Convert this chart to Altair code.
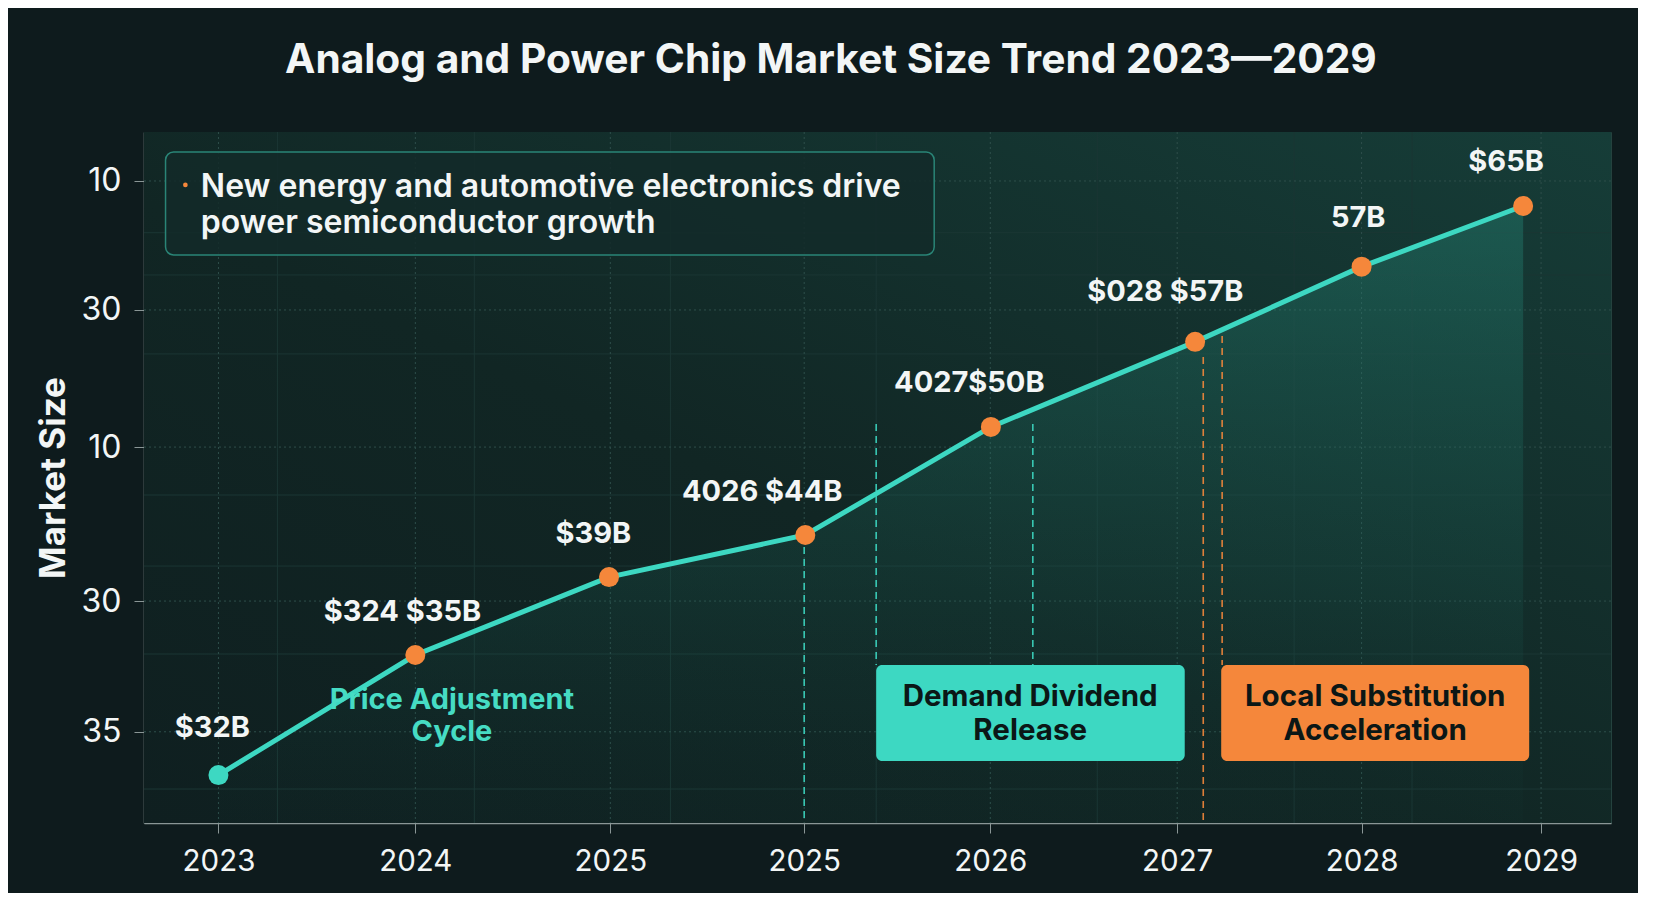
import altair as alt
import pandas as pd

# ---------------- data ----------------
x_tick_labels = ["2023", "2024", "2025", "2025", "2026", "2027", "2028", "2029"]
x_tick_pos = [0.0, 1.042, 2.074, 3.100, 4.085, 5.074, 6.050, 7.000]

point_pos = [0.0, 1.042, 2.067, 3.106, 4.088, 5.169, 6.050, 6.905]
point_level = [32.0, 38.96, 43.48, 45.92, 52.19, 57.12, 61.48, 65.0]
point_kind = ["start", "milestone", "milestone", "milestone", "milestone", "milestone", "milestone", "milestone"]

value_labels = ["$32B", "$324 $35B", "$39B", "4026 $44B", "4027$50B", "$028 $57B", "57B", "$65B"]
label_pos = [-0.032, 0.974, 1.984, 2.878, 3.974, 5.011, 6.032, 6.815]
label_level = [34.72, 41.47, 45.97, 48.41, 54.73, 60.01, 64.30, 67.55]

y_tick_levels = [66.45, 58.97, 51.02, 42.09, 34.51]
y_tick_labels = ["10", "30", "10", "30", "35"]

x_domain = [-0.394, 7.370]
y_domain = [29.22, 69.29]

grid_x_minor = [0.312, 1.354, 2.392, 3.481, 4.651, 5.693, 6.317]
grid_y_minor = [63.45, 61.0, 56.42, 48.24, 44.12, 39.02, 31.19]

phase_names = ["Demand Dividend\nRelease", "Local Substitution\nAcceleration"]
phase_x = [3.481, 5.307]
phase_x2 = [5.114, 6.937]
phase_text_x = [4.296, 6.122]
phase_kind = ["teal", "orange"]
phase_top = 38.38
phase_bottom = 32.81
phase_text_level = 36.50

guide_x = [3.100, 3.481, 4.310, 5.212, 5.312]
guide_top = [45.92, 52.36, 52.36, 56.24, 57.46]
guide_bottom = [29.22, 38.38, 38.38, 29.22, 38.38]
guide_kind = ["teal", "teal", "teal", "orange", "orange"]

cycle_text = "Price Adjustment\nCycle"
cycle_x = 1.236
cycle_level = 36.36

note_text = "New energy and automotive electronics drive\npower semiconductor growth"
note_box = [-0.28, 3.788, 68.13, 62.16]
note_text_pos = [-0.093, 65.50]
note_bullet = [-0.175, 66.22]

title_text = "Analog and Power Chip Market Size Trend 2023\u20142029"

# ---------------- styling ----------------
W, H = 1467, 691
FONT = "Inter"
BG = "#0e1b1d"
TEAL = "#3dd8c2"
ORANGE = "#f5873b"
WHITE = "#f3f6f6"

xs = alt.Scale(domain=x_domain, nice=False, zero=False)
ys = alt.Scale(domain=y_domain, nice=False, zero=False)
kind_scale = alt.Scale(domain=["teal", "orange", "start", "milestone"],
                       range=[TEAL, ORANGE, TEAL, ORANGE])

def label_expr(values, labels):
    vals = ",".join(repr(float(v)) for v in values)
    labs = ",".join("'" + l + "'" for l in labels)
    return f"[{labs}][indexof([{vals}], datum.value)]"

XAXIS = alt.Axis(values=x_tick_pos, labelExpr=label_expr(x_tick_pos, x_tick_labels),
                 title=None, grid=False,
                 labelFontSize=29.5, labelFont=FONT, labelFontWeight=400, labelColor=WHITE,
                 labelPadding=14,
                 tickSize=10, tickColor="#8a9696", domainColor="#8a9696",
                 domainWidth=1.5, labelFlush=False, labelOverlap=False)
YAXIS = alt.Axis(values=y_tick_levels, labelExpr=label_expr(y_tick_levels, y_tick_labels),
                 title="Market Size", titleFontSize=35, titleFont=FONT, titleFontWeight=700,
                 titleColor=WHITE, titlePadding=10,
                 grid=False,
                 labelFontSize=32, labelFont=FONT, labelFontWeight=400, labelColor=WHITE,
                 labelPadding=13,
                 tickSize=10, tickColor="#8a9696", domainColor="#8a9696",
                 domainWidth=1.5, labelFlush=False, labelOverlap=False)

def X(field):
    return alt.X(field, scale=xs, axis=XAXIS)

def Y(field):
    return alt.Y(field, scale=ys, axis=YAXIS)

pts = pd.DataFrame({"pos": point_pos, "level": point_level, "kind": point_kind})
labs = pd.DataFrame({"pos": label_pos, "level": label_level, "text": value_labels})

# panel background with a soft glow towards the right
panel = alt.Chart(pd.DataFrame({"a": [0]})).mark_rect(
    color=alt.LinearGradient(
        gradient="linear", x1=0, y1=1, x2=1, y2=0,
        stops=[alt.GradientStop(color="#0f1f20", offset=0),
               alt.GradientStop(color="#112624", offset=0.45),
               alt.GradientStop(color="#163d38", offset=1)]),
).encode(x=alt.value(0), x2=alt.value(W), y=alt.value(0), y2=alt.value(H))

gx = alt.Chart(pd.DataFrame({"g": grid_x_minor})).mark_rule(
    color="#1b3634", strokeWidth=1
).encode(x=X("g:Q"))
gy = alt.Chart(pd.DataFrame({"g": grid_y_minor})).mark_rule(
    color="#1b3634", strokeWidth=1
).encode(y=Y("g:Q"))
gx_major = alt.Chart(pd.DataFrame({"g": x_tick_pos})).mark_rule(
    color="#2e4f4b", strokeWidth=1, strokeDash=[2, 3]
).encode(x=X("g:Q"))
gy_major = alt.Chart(pd.DataFrame({"g": y_tick_levels})).mark_rule(
    color="#2e4f4b", strokeWidth=1, strokeDash=[2, 3]
).encode(y=Y("g:Q"))

area = alt.Chart(pts).mark_area(
    color=alt.LinearGradient(
        gradient="linear", x1=0, y1=0, x2=0, y2=1,
        stops=[alt.GradientStop(color="rgba(40,150,132,0.34)", offset=0),
               alt.GradientStop(color="rgba(30,110,98,0.18)", offset=0.6),
               alt.GradientStop(color="rgba(20,70,64,0.05)", offset=1)]),
    clip=True,
).encode(
    x=X("pos:Q"),
    y=Y("level:Q"),
    y2=alt.datum(y_domain[0]),
)

guides = alt.Chart(pd.DataFrame({"x": guide_x, "y": guide_top, "y2": guide_bottom,
                                 "kind": guide_kind})).mark_rule(
    strokeWidth=1.6, strokeDash=[7, 5], opacity=0.9
).encode(
    x=X("x:Q"),
    y=Y("y:Q"),
    y2="y2:Q",
    color=alt.Color("kind:N", scale=kind_scale, legend=None),
)

phase_df = pd.DataFrame({"x": phase_x, "x2": phase_x2, "tx": phase_text_x,
                         "name": phase_names, "kind": phase_kind})
boxes = alt.Chart(phase_df).mark_rect(cornerRadius=6).encode(
    x=X("x:Q"),
    x2="x2:Q",
    y=Y("top:Q"),
    y2="bottom:Q",
    color=alt.Color("kind:N", scale=kind_scale, legend=None),
).transform_calculate(top=str(phase_top), bottom=str(phase_bottom))
box_text = alt.Chart(phase_df).mark_text(
    font=FONT, fontSize=29.5, fontWeight=700, color="#0b1716",
    align="center", baseline="middle", lineBreak="\n", lineHeight=34,
).encode(
    x=X("tx:Q"),
    y=Y("ly:Q"),
    text="name:N",
).transform_calculate(ly=str(phase_text_level))

note_df = pd.DataFrame({"x": [note_box[0]], "x2": [note_box[1]], "y": [note_box[2]], "y2": [note_box[3]],
                        "tx": [note_text_pos[0]], "ty": [note_text_pos[1]], "t": [note_text],
                        "bx": [note_bullet[0]], "by": [note_bullet[1]]})
note_rect = alt.Chart(note_df).mark_rect(
    cornerRadius=8, fill="#132a29", fillOpacity=0.85, stroke="#2a8577", strokeWidth=1.5
).encode(
    x=X("x:Q"), x2="x2:Q",
    y=Y("y:Q"), y2="y2:Q",
)
note_txt = alt.Chart(note_df).mark_text(
    font=FONT, fontSize=32, fontWeight=600, color=WHITE,
    align="left", baseline="alphabetic", lineBreak="\n", lineHeight=36,
).encode(
    x=X("tx:Q"),
    y=Y("ty:Q"),
    text="t:N",
)
note_dot = alt.Chart(note_df).mark_point(
    filled=True, shape="circle", size=22, color=ORANGE, opacity=1
).encode(x=X("bx:Q"), y=Y("by:Q"))

line = alt.Chart(pts).mark_line(color=TEAL, strokeWidth=5).encode(
    x=X("pos:Q"),
    y=Y("level:Q"),
)

points = alt.Chart(pts).mark_point(filled=True, shape="circle", size=400, opacity=1).encode(
    x=X("pos:Q"),
    y=Y("level:Q"),
    color=alt.Color("kind:N", scale=kind_scale, legend=None),
)

val_text = alt.Chart(labs).mark_text(
    font=FONT, fontSize=29, fontWeight=700, color=WHITE, align="center", baseline="middle"
).encode(
    x=X("pos:Q"),
    y=Y("level:Q"),
    text="text:N",
)

cycle = alt.Chart(pd.DataFrame({"x": [cycle_x], "y": [cycle_level], "t": [cycle_text]})).mark_text(
    font=FONT, fontSize=29, fontWeight=700, color="#46dcc4",
    align="center", baseline="middle", lineBreak="\n", lineHeight=32,
).encode(
    x=X("x:Q"),
    y=Y("y:Q"),
    text="t:N",
)

chart = alt.layer(
    line, panel, gx, gy, gx_major, gy_major, area, guides, boxes, box_text,
    note_rect, note_dot, note_txt, line, points, val_text, cycle
).properties(
    width=W, height=H,
    title=alt.TitleParams(title_text, anchor="start", frame="group", dx=141, offset=50,
                          fontSize=40.7, font=FONT, fontWeight=700, color=WHITE),
    autosize=alt.AutoSizeParams(type="none"),
    padding={"left": 136, "top": 124, "right": 27, "bottom": 70},
).configure(
    background=BG,
).configure_view(
    stroke="#24423e", strokeWidth=1,
)

chart.save("out.html", embed_options={"renderer": "svg", "actions": False})
